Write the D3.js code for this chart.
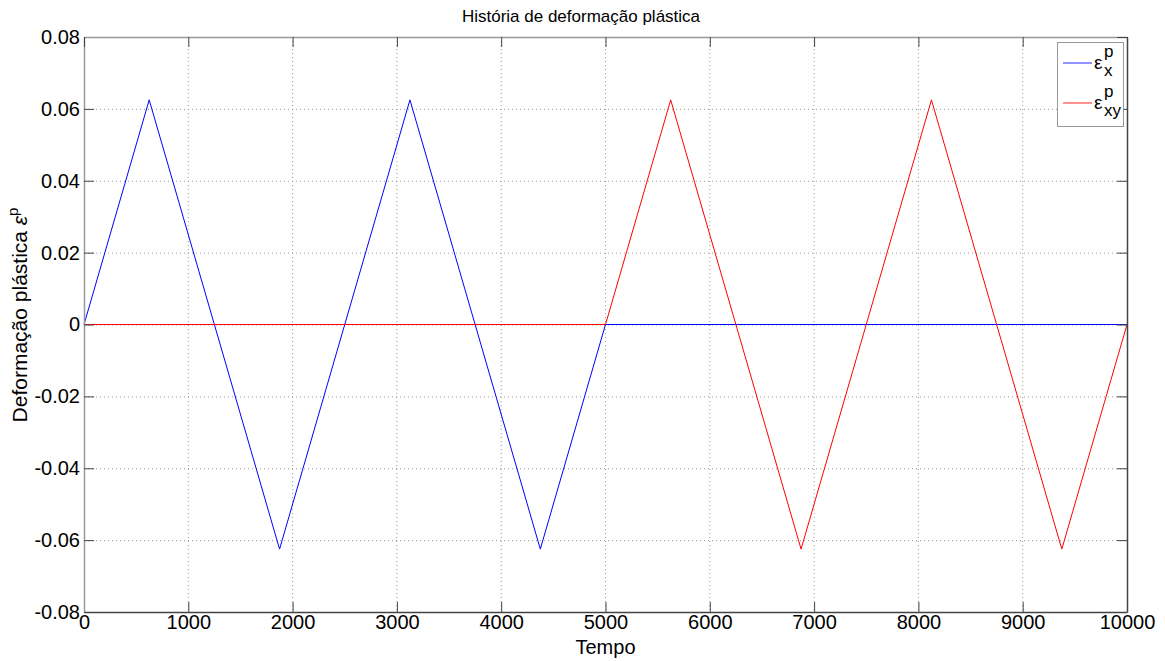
<!DOCTYPE html>
<html><head><meta charset="utf-8">
<script src="https://cdn.jsdelivr.net/npm/d3@7"></script>
<style>body{margin:0;background:#fff}svg{font-family:"Liberation Sans",Arial,sans-serif}</style>
</head><body><svg id="c" width="1165" height="661"></svg>
<script>
const timeX = [0, 625, 1875, 3125, 4375, 5000, 10000];
const strainX = [0, 0.0625, -0.0625, 0.0625, -0.0625, 0, 0];
const timeXY = [0, 5000, 5625, 6875, 8125, 9375, 10000];
const strainXY = [0, 0, 0.0625, -0.0625, 0.0625, -0.0625, 0];
const xTicks = [0,1000,2000,3000,4000,5000,6000,7000,8000,9000,10000];
const yTicks = [-0.08,-0.06,-0.04,-0.02,0,0.02,0.04,0.06,0.08];

const svg = d3.select("#c");
const L=84, R=1127, T=37, B=612;
const x = d3.scaleLinear().domain([0,10000]).range([L,R]);
const y = d3.scaleLinear().domain([-0.08,0.08]).range([B,T]);

// grid
const g = svg.append("g");
g.selectAll(".gx").data(xTicks.slice(1,-1)).enter().append("line")
 .attr("x1",d=>x(d)).attr("x2",d=>x(d)).attr("y1",T).attr("y2",B)
 .attr("stroke","#999").attr("stroke-dasharray","1,3").attr("stroke-width",1);
g.selectAll(".gy").data(yTicks.slice(1,-1)).enter().append("line")
 .attr("y1",d=>y(d)+0.5).attr("y2",d=>y(d)+0.5).attr("x1",L).attr("x2",R)
 .attr("stroke","#999").attr("stroke-dasharray","1,3").attr("stroke-width",1);

// series
const lineGen = d3.line().x(d=>x(d[0])).y(d=>y(d[1]));
svg.append("path").datum(timeX.map((t,i)=>[t,strainX[i]])).attr("d",lineGen)
 .attr("fill","none").attr("stroke","#0000ff").attr("stroke-width",1);
svg.append("path").datum(timeXY.map((t,i)=>[t,strainXY[i]])).attr("d",lineGen)
 .attr("fill","none").attr("stroke","#ff0000").attr("stroke-width",1);

// axes box
const tl = 10;
const fmtY = d=> d===0 ? "0" : d3.format(".2f")(d).replace("−","-");
const axB = d3.axisBottom(x).tickValues(xTicks).tickSizeInner(-tl).tickSizeOuter(0).tickPadding(3).tickFormat(d3.format("d"));
const axL = d3.axisLeft(y).tickValues(yTicks).tickSizeInner(-tl).tickSizeOuter(0).tickPadding(4).tickFormat(fmtY);
const axT = d3.axisTop(x).tickValues(xTicks).tickSizeInner(-tl).tickSizeOuter(0).tickFormat("");
const axR = d3.axisRight(y).tickValues(yTicks).tickSizeInner(-tl).tickSizeOuter(0).tickFormat("");

function style(sel,col){
  sel.select(".domain").attr("stroke",col).attr("stroke-width",1.5);
  sel.selectAll(".tick line").attr("stroke","#444");
  sel.selectAll(".tick text").attr("fill","#000").attr("font-size",20).attr("font-family","Liberation Sans, Arial, sans-serif");
}
style(svg.append("g").attr("transform",`translate(0,${B})`).call(axB),"#444");
style(svg.append("g").attr("transform",`translate(${L},0)`).call(axL),"#999");
style(svg.append("g").attr("transform",`translate(0,${T})`).call(axT),"#999");
style(svg.append("g").attr("transform",`translate(${R},0)`).call(axR),"#444");

// title & labels
svg.append("text").attr("x",581).attr("y",22).attr("text-anchor","middle")
 .attr("font-size",17).text("História de deformação plástica");
svg.append("text").attr("x",(L+R)/2).attr("y",654).attr("text-anchor","middle")
 .attr("font-size",20).text("Tempo");
const yl = svg.append("text").attr("transform",`translate(27,315) rotate(-90)`)
 .attr("text-anchor","middle").attr("font-size",21);
yl.append("tspan").text("Deformação plástica ");
yl.append("tspan").attr("font-style","italic").text("ε");
yl.append("tspan").attr("dy",-9).attr("font-size",15).text("p");

// legend
const lg = svg.append("g");
lg.append("rect").attr("x",1057.5).attr("y",42.5).attr("width",66).attr("height",84)
 .attr("fill","#fff").attr("stroke","#999").attr("stroke-width",1);
const items=[{c:"#6f6fff",s:"x",y:63},{c:"#ff6f6f",s:"xy",y:103}];
items.forEach(it=>{
  lg.append("line").attr("x1",1063).attr("x2",1092).attr("y1",it.y).attr("y2",it.y)
    .style("stroke",it.c).style("stroke-width","1.5px");
  const t = lg.append("text").attr("x",1094).attr("y",it.y+6).attr("font-size",19);
  t.append("tspan").text("ε");
  t.append("tspan").attr("x",1104).attr("dy",-12).attr("font-size",17).text("p");
  t.append("tspan").attr("x",1104).attr("dy",19).attr("font-size",17).text(it.s);
});
</script></body></html>
